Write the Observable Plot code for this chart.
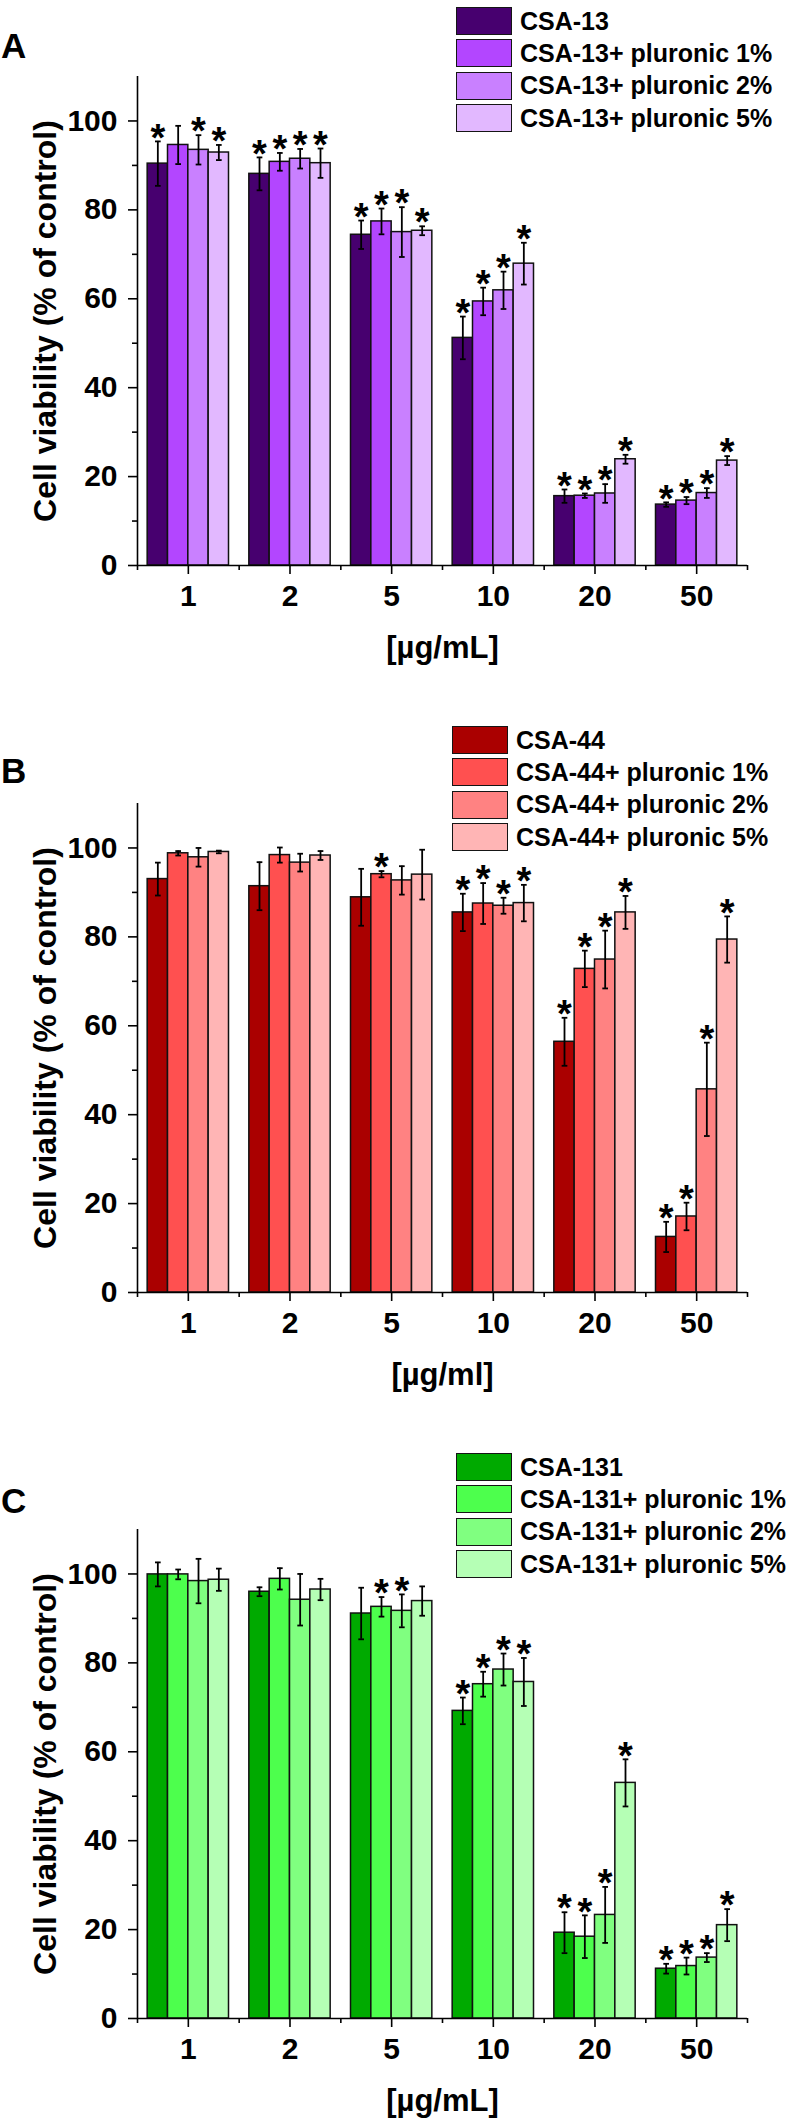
<!DOCTYPE html>
<html><head><meta charset="utf-8">
<script src="https://cdn.jsdelivr.net/npm/d3@7"></script>
<script src="https://cdn.jsdelivr.net/npm/@observablehq/plot@0.6"></script>
<style>
body{margin:0;background:#fff;}
#page{position:relative;width:791px;height:2126px;overflow:hidden;background:#fff;}
.panel{position:absolute;left:0;}
.letter{position:absolute;left:1px;font-weight:bold;font-size:35px;line-height:35px;font-family:"Liberation Sans",Arial,sans-serif;color:#000;}
.legend{position:absolute;}
.legrow{display:flex;align-items:center;height:32.3px;}
.sw{width:56px;height:28px;border:1.6px solid #151515;box-sizing:border-box;flex:none;}
.lt{margin-left:8px;font-weight:bold;font-size:25px;white-space:nowrap;color:#000;font-family:"Liberation Sans",Arial,sans-serif;}
</style>
</head><body><div id="page"></div>
<script>
// ---------- data ----------
const concentrations = ["1", "2", "5", "10", "20", "50"];

// Panel A
const seriesA = ["CSA-13", "CSA-13+ pluronic 1%", "CSA-13+ pluronic 2%", "CSA-13+ pluronic 5%"];
const colorsA = ["#47006f", "#b346ff", "#c980ff", "#e2b8ff"];
const meanA_base = [90.4, 88.1, 74.4, 51.2, 15.6, 13.7];
const meanA_p1   = [94.6, 90.8, 77.4, 59.4, 15.7, 14.6];
const meanA_p2   = [93.5, 91.5, 75.0, 61.9, 16.2, 16.3];
const meanA_p5   = [92.9, 90.5, 75.3, 67.9, 23.9, 23.6];
const errA_base = [5.0, 3.7, 3.2, 4.8, 1.5, 0.5];
const errA_p1   = [4.3, 2.0, 2.9, 3.1, 0.5, 0.8];
const errA_p2   = [3.3, 2.2, 5.6, 4.2, 2.1, 1.1];
const errA_p5   = [1.7, 3.3, 1.0, 4.7, 1.0, 1.0];
const sigA_base = [1, 1, 1, 1, 1, 1];
const sigA_p1   = [0, 1, 1, 1, 1, 1];
const sigA_p2   = [1, 1, 1, 1, 1, 1];
const sigA_p5   = [1, 1, 1, 1, 1, 1];

// Panel B
const seriesB = ["CSA-44", "CSA-44+ pluronic 1%", "CSA-44+ pluronic 2%", "CSA-44+ pluronic 5%"];
const colorsB = ["#aa0000", "#ff5050", "#ff8282", "#ffb5b5"];
const meanB_base = [93.0, 91.4, 88.9, 85.5, 56.4, 12.5];
const meanB_p1   = [98.8, 98.4, 94.1, 87.5, 72.8, 17.1];
const meanB_p2   = [97.9, 96.7, 92.7, 87.0, 74.9, 45.7];
const meanB_p5   = [99.1, 98.3, 94.0, 87.6, 85.5, 79.4];
const errB_base = [3.7, 5.4, 6.4, 4.2, 5.4, 3.4];
const errB_p1   = [0.5, 1.7, 0.7, 4.6, 4.1, 3.1];
const errB_p2   = [2.1, 2.0, 3.2, 1.8, 6.5, 10.5];
const errB_p5   = [0.3, 1.0, 5.6, 4.1, 3.7, 5.2];
const sigB_base = [0, 0, 0, 1, 1, 1];
const sigB_p1   = [0, 0, 1, 1, 1, 1];
const sigB_p2   = [0, 0, 0, 1, 1, 1];
const sigB_p5   = [0, 0, 0, 1, 1, 1];

// Panel C
const seriesC = ["CSA-131", "CSA-131+ pluronic 1%", "CSA-131+ pluronic 2%", "CSA-131+ pluronic 5%"];
const colorsC = ["#00aa00", "#4dff4d", "#80ff80", "#b5ffb5"];
const meanC_base = [99.9, 96.0, 91.1, 69.2, 19.3, 11.2];
const meanC_p1   = [99.9, 98.9, 92.6, 75.2, 18.4, 11.8];
const meanC_p2   = [98.4, 94.2, 91.7, 78.5, 23.3, 13.7];
const meanC_p5   = [98.7, 96.5, 93.9, 75.7, 53.0, 21.0];
const errC_base = [2.7, 1.0, 5.8, 3.0, 4.6, 1.1];
const errC_p1   = [1.1, 2.4, 2.2, 2.8, 4.8, 1.9];
const errC_p2   = [5.0, 5.8, 3.7, 3.6, 6.3, 1.0];
const errC_p5   = [2.5, 2.4, 3.3, 5.4, 5.3, 3.6];
const sigC_base = [0, 0, 0, 1, 1, 1];
const sigC_p1   = [0, 0, 1, 1, 1, 1];
const sigC_p2   = [0, 0, 1, 1, 1, 1];
const sigC_p5   = [0, 0, 0, 1, 1, 1];

const yTicks = [0, 20, 40, 60, 80, 100];
const yMinorTicks = [10, 30, 50, 70, 90];
const yLabel = "Cell viability (% of control)";
const xLabels = ["[µg/mL]", "[µg/ml]", "[µg/mL]"];
const panelLetters = ["A", "B", "C"];

// ---------- drawing ----------
const FONT = '"Liberation Sans",Arial,sans-serif';
const BAR = 0.2, GAP = 0.2, CAP = 0.028;

const panels = [
  {series: seriesA, colors: colorsA, means: [meanA_base, meanA_p1, meanA_p2, meanA_p5], errs: [errA_base, errA_p1, errA_p2, errA_p5], sigs: [sigA_base, sigA_p1, sigA_p2, sigA_p5], top: 0, legend: [456, 5]},
  {series: seriesB, colors: colorsB, means: [meanB_base, meanB_p1, meanB_p2, meanB_p5], errs: [errB_base, errB_p1, errB_p2, errB_p5], sigs: [sigB_base, sigB_p1, sigB_p2, sigB_p5], top: 726.5, legend: [452, 724]},
  {series: seriesC, colors: colorsC, means: [meanC_base, meanC_p1, meanC_p2, meanC_p5], errs: [errC_base, errC_p1, errC_p2, errC_p5], sigs: [sigC_base, sigC_p1, sigC_p2, sigC_p5], top: 1453, legend: [456, 1451]}
];
const letterTops = [28.4, 753.4, 1483.4];

const page = document.getElementById("page");

panels.forEach((p, pi) => {
  const rows = [];
  p.means.forEach((arr, k) => arr.forEach((v, g) => {
    const e = p.errs[k][g];
    const x1 = g + GAP / 2 + k * BAR;
    rows.push({g, k, series: p.series[k], v, lo: v - e, hi: v + e, sig: p.sigs[k][g], x1, x2: x1 + BAR, cx: x1 + BAR / 2});
  }));

  const chart = Plot.plot({
    width: 791,
    height: 695,
    marginLeft: 137,
    marginRight: 44,
    marginTop: 76,
    marginBottom: 130,
    x: {domain: [0, concentrations.length]},
    y: {domain: [0, 110]},
    color: {domain: p.series, range: p.colors},
    style: {background: "transparent", overflow: "visible"},
    marks: [
      Plot.rectY(rows, {x1: "x1", x2: "x2", y1: 0, y2: "v", fill: "series", stroke: "#111", strokeWidth: 1.5}),
      Plot.ruleX(rows, {x: "cx", y1: "lo", y2: "hi", stroke: "#000", strokeWidth: 1.8}),
      Plot.link(rows, {x1: d => d.cx - CAP, x2: d => d.cx + CAP, y1: "hi", y2: "hi", stroke: "#000", strokeWidth: 1.8}),
      Plot.link(rows, {x1: d => d.cx - CAP, x2: d => d.cx + CAP, y1: "lo", y2: "lo", stroke: "#000", strokeWidth: 1.8}),
      Plot.text(rows.filter(d => d.sig), {x: "cx", y: "hi", text: () => "*", fontSize: 38, fontWeight: "bold", fontFamily: FONT, fill: "#000", dy: -3}),
      Plot.ruleX([0], {stroke: "#000", strokeWidth: 1.6}),
      Plot.ruleY([0], {stroke: "#000", strokeWidth: 1.6}),
      Plot.axisY({ticks: yTicks, tickSize: 9, tickPadding: 11, label: null, fontSize: 30, fontWeight: "bold", fontFamily: FONT, strokeWidth: 1.6, stroke: "#000", fill: "#000"}),
      Plot.axisY({ticks: yMinorTicks, tickSize: 5, tickFormat: () => "", label: null, strokeWidth: 1.6, stroke: "#000"}),
      Plot.axisX({ticks: concentrations.map((c, i) => i + 0.5), tickFormat: (t) => concentrations[Math.round(t - 0.5)], tickSize: 9, tickPadding: 10, label: null, fontSize: 30, fontWeight: "bold", fontFamily: FONT, strokeWidth: 1.6, stroke: "#000", fill: "#000"}),
      Plot.axisX({ticks: d3.range(concentrations.length + 1), tickSize: 5, tickFormat: () => "", label: null, strokeWidth: 1.6, stroke: "#000"}),
      Plot.text([yLabel], {text: d => d, frameAnchor: "left", textAnchor: "middle", lineAnchor: "middle", rotate: -90, dx: -91.5, fontSize: 32, fontWeight: "bold", fontFamily: FONT, fill: "#000"}),
      Plot.text([xLabels[pi]], {text: d => d, frameAnchor: "bottom", textAnchor: "middle", lineAnchor: "middle", dy: 83, fontSize: 31, fontWeight: "bold", fontFamily: FONT, fill: "#000"})
    ]
  });
  const wrap = document.createElement("div");
  wrap.className = "panel";
  wrap.style.top = p.top + "px";
  wrap.appendChild(chart);
  page.appendChild(wrap);

  const lg = document.createElement("div");
  lg.className = "legend";
  lg.style.left = p.legend[0] + "px";
  lg.style.top = p.legend[1] + "px";
  p.series.forEach((s, k) => {
    const row = document.createElement("div");
    row.className = "legrow";
    const sw = document.createElement("div");
    sw.className = "sw";
    sw.style.background = chart.scale("color").apply(s);
    const t = document.createElement("span");
    t.className = "lt";
    t.textContent = s;
    row.appendChild(sw); row.appendChild(t);
    lg.appendChild(row);
  });
  page.appendChild(lg);

  const L = document.createElement("div");
  L.className = "letter";
  L.style.top = letterTops[pi] + "px";
  L.textContent = panelLetters[pi];
  page.appendChild(L);
});
</script>
</body></html>
